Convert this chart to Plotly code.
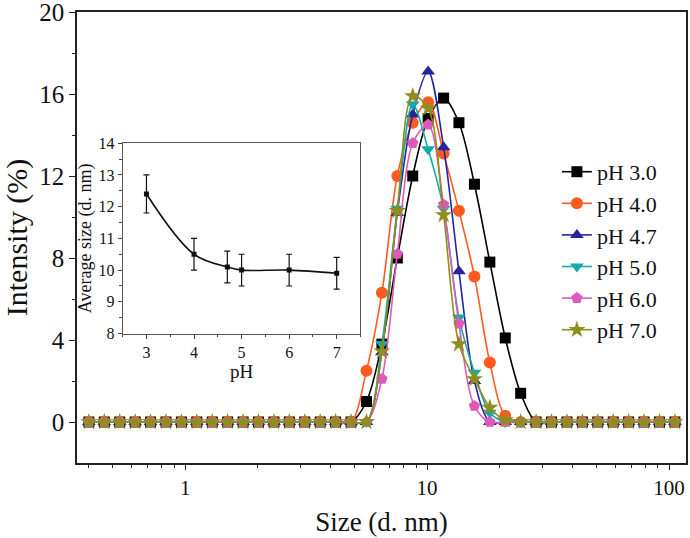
import plotly.graph_objects as go

# Size bins (d. nm)
sizes = [0.4000, 0.4632, 0.5365, 0.6213, 0.7195, 0.8332, 0.9649, 1.117, 1.294, 1.499,
         1.736, 2.010, 2.328, 2.696, 3.122, 3.615, 4.187, 4.849, 5.615, 6.503,
         7.531, 8.721, 10.10, 11.70, 13.54, 15.69, 18.17, 21.04, 24.36, 28.21,
         32.67, 37.84, 43.82, 50.75, 58.77, 68.06, 78.82, 91.28, 105.7]

Z17 = [0.0] * 18  # bins 0..17
Z10 = [0.0] * 10  # bins 29..38

ph30 = Z17 + [1.0, 3.8, 8.0, 12.0, 14.8, 15.8, 14.6, 11.6, 7.8, 4.1, 1.4] + Z10
ph40 = Z17 + [2.5, 6.3, 12.0, 14.6, 15.6, 13.1, 10.3, 7.1, 2.9, 0.3, 0.0] + Z10
ph47 = Z17 + [0.0, 3.4, 10.2, 15.0, 17.1, 13.4, 7.35, 2.0, 0.0, 0.0, 0.0] + Z10
ph50 = Z17 + [0.0, 3.8, 10.4, 15.5, 13.3, 10.4, 5.1, 2.4, 0.45, 0.0, 0.0] + Z10
ph60 = Z17 + [0.0, 2.1, 8.2, 13.6, 14.5, 10.6, 4.8, 0.78, 0.0, 0.0, 0.0] + Z10
ph70 = Z17 + [0.0, 3.45, 10.3, 15.9, 15.3, 10.1, 3.8, 2.1, 0.7, 0.1, 0.0] + Z10

series_names = ["pH 3.0", "pH 4.0", "pH 4.7", "pH 5.0", "pH 6.0", "pH 7.0"]
series_vals = [ph30, ph40, ph47, ph50, ph60, ph70]
colors = ["#000000", "#FF5A1F", "#25259A", "#12AAAA", "#DC5AB9", "#8E8E1E"]
symbols = ["square", "circle", "triangle-up", "triangle-down", "pentagon", "star"]
msizes = [11, 12, 12, 12, 12, 13]

# Inset: average size vs pH
inset_ph = [3, 4, 4.7, 5, 6, 7]
inset_size = [12.4, 10.5, 10.1, 10.0, 10.0, 9.9]
inset_err = [0.6, 0.5, 0.5, 0.5, 0.5, 0.5]

FONT = "Liberation Serif, Times New Roman, serif"

fig = go.Figure()
for name, vals, c, s, ms in zip(series_names, series_vals, colors, symbols, msizes):
    fig.add_trace(go.Scatter(
        x=sizes, y=vals, name=name, mode="lines+markers",
        line=dict(color=c, width=1.6, shape="spline", smoothing=0.9),
        marker=dict(symbol=s, size=ms, color=c, line=dict(width=0)),
        xaxis="x", yaxis="y"))

fig.add_trace(go.Scatter(
    x=inset_ph, y=inset_size, mode="lines+markers", showlegend=False,
    line=dict(color="#111111", width=1.6, shape="spline", smoothing=1.0),
    marker=dict(symbol="square", size=5, color="#111111"),
    error_y=dict(type="data", array=inset_err, visible=True, color="#111111",
                 thickness=1.2, width=3),
    xaxis="x2", yaxis="y2"))

axis_line = dict(showline=True, linecolor="#222222", linewidth=1.6, mirror=True,
                 showgrid=False, zeroline=False, automargin=False,
                 ticklabeloverflow="allow")

fig.update_layout(
    width=690, height=538,
    margin=dict(l=77, r=4, t=12, b=75),
    paper_bgcolor="white", plot_bgcolor="white",
    font=dict(family=FONT, color="#111111", size=24),
    xaxis=dict(type="log", range=[-0.447, 2.07], domain=[0, 1],
               tickvals=[1, 10, 100], ticktext=["1", "10", "100"],
               ticks="outside", ticklen=5, tickwidth=1.4, tickcolor="#222222",
               minor=dict(ticks="outside", ticklen=3, tickwidth=1.2, tickcolor="#222222",
                          tickvals=[0.4, 0.5, 0.6, 0.7, 0.8, 0.9, 2, 3, 4, 5, 6, 7, 8, 9,
                                    20, 30, 40, 50, 60, 70, 80, 90]),
               tickfont=dict(size=21),
               title=dict(text="Size (d. nm)", font=dict(size=27), standoff=13),
               **axis_line),
    yaxis=dict(range=[-2, 20], domain=[0, 1],
               tickvals=[0, 4, 8, 12, 16, 20],
               ticks="outside", ticklen=6, tickwidth=1.4, tickcolor="#222222",
               minor=dict(ticks="outside", ticklen=3.5, tickwidth=1.2, tickcolor="#222222",
                          tickvals=[2, 6, 10, 14, 18]),
               tickfont=dict(size=25),
               title=dict(text="Intensity (%)", font=dict(size=30), standoff=15),
               **axis_line),
    xaxis2=dict(range=[2.5, 7.5], domain=[0.075, 0.4655], anchor="y2",
                tickvals=[3, 4, 5, 6, 7], ticks="outside", ticklen=4,
                tickcolor="#444444", tickwidth=1,
                minor=dict(ticks="outside", ticklen=2.5, tickcolor="#444444",
                           tickvals=[2.5, 3.5, 4.5, 5.5, 6.5, 7.5]),
                tickfont=dict(size=16),
                title=dict(text="pH", font=dict(size=19), standoff=1),
                showline=True, linecolor="#555555", linewidth=1.2, mirror=True,
                showgrid=False, zeroline=False),
    yaxis2=dict(range=[8, 14], domain=[0.287, 0.709], anchor="x2",
                tickvals=[8, 9, 10, 11, 12, 13, 14], ticks="outside", ticklen=4,
                tickcolor="#444444", tickwidth=1,
                minor=dict(ticks="outside", ticklen=2.5, tickcolor="#444444",
                           tickvals=[8.5, 9.5, 10.5, 11.5, 12.5, 13.5]),
                tickfont=dict(size=16),
                title=dict(text="Average size (d. nm)", font=dict(size=18), standoff=2),
                showline=True, linecolor="#555555", linewidth=1.2, mirror=True,
                showgrid=False, zeroline=False),
    legend=dict(x=0.788, y=0.692, xanchor="left", yanchor="top",
                bgcolor="rgba(0,0,0,0)", font=dict(size=22, family=FONT),
                itemsizing="trace", tracegroupgap=0),
    showlegend=True,
)

fig.write_html("out.html", config={"displayModeBar": False},
               post_script="document.body.style.margin='0';document.body.style.padding='0';")
